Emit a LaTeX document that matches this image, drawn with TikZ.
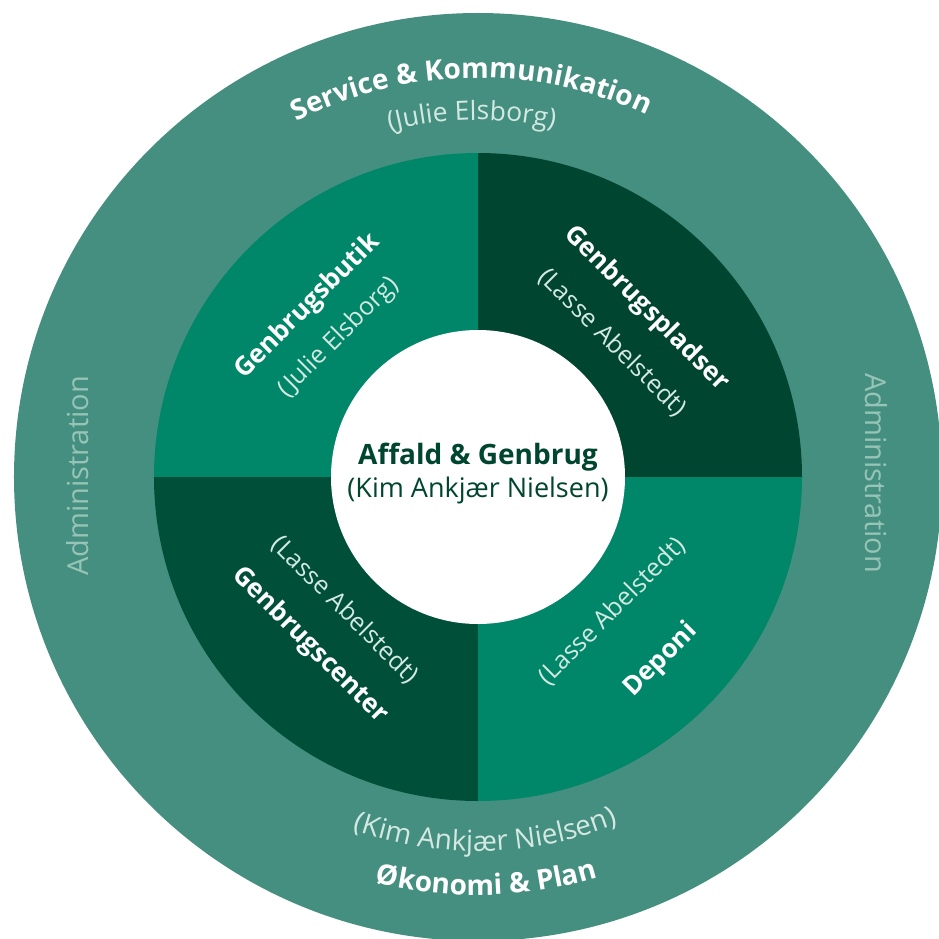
\documentclass[tikz,border=0pt]{standalone}
\usepackage{fontspec}
\setmainfont{Open Sans}
\usetikzlibrary{decorations.text}

\definecolor{ringgreen}{RGB}{69,143,128}
\definecolor{midgreen}{RGB}{0,134,104}
\definecolor{darkgreen}{RGB}{0,69,47}
\definecolor{deepgreen}{RGB}{0,80,57}
\definecolor{namegreen}{RGB}{212,233,226}
\definecolor{admingreen}{RGB}{150,196,183}

\newcommand\ringbold{\fontsize{28pt}{32pt}\selectfont\bfseries}
\newcommand\ringlight{\fontsize{26.5pt}{30pt}\selectfont}
\newcommand\ringwide{\fontsize{28pt}{30pt}\selectfont}

\begin{document}
\begin{tikzpicture}[
  every node/.style={inner sep=0pt, font=\fontsize{25pt}{30pt}\selectfont},
  unittitle/.style={text=white, font=\fontsize{26pt}{30pt}\selectfont\bfseries},
  unitname/.style={text=namegreen},
  admin/.style={text=admingreen, font=\fontsize{29pt}{30pt}\selectfont},
  ringtext/.style={decorate, decoration={text along path, text align=center, text color=#1}}
]
\useasboundingbox (-478pt,-461pt) rectangle (461pt,477pt);

% rings and quarters
\fill[ringgreen] (0,0) circle[radius=464pt];
\foreach \ang/\col in {0/darkgreen, 90/midgreen, 180/deepgreen, 270/midgreen}
  \fill[\col] (0,0) -- (\ang:324pt) arc[start angle=\ang, delta angle=90, radius=324pt] -- cycle;
\fill[white] (0,0) circle[radius=147pt];

% centre
\node[align=center, text=darkgreen, font=\fontsize{27pt}{33pt}\selectfont] (hub) at (0pt,3pt)
  {{\fontsize{28pt}{33pt}\selectfont\bfseries Affald \& Genbrug}\\(Kim Ankjær Nielsen)};

% quarters
\node[unittitle, rotate=45] (butik) at (135:241pt) {Genbrugsbutik};
\node[unitname, rotate=45] (butikname) at (135:197pt) {(Julie Elsborg)};
\node[unittitle, rotate=-45] (pladser) at (45:238pt) {Genbrugspladser};
\node[unitname, rotate=-45] (pladsername) at (45:190pt) {(Lasse Abelstedt)};
\node[unittitle, rotate=-45] (gcenter) at (225:238pt) {Genbrugscenter};
\node[unitname, rotate=-45] (gcentername) at (225:188pt) {(Lasse Abelstedt)};
\node[unittitle, rotate=45] (deponi) at (-45:259pt) {Deponi};
\node[unitname, rotate=45] (deponiname) at (-45:190pt) {(Lasse Abelstedt)};

% outer ring
\node[admin, rotate=90] (adminleft) at (-400pt,1pt) {Administration};
\node[admin, rotate=-90] (adminright) at (398pt,4pt) {Administration};
\path[ringtext=white, decoration={text={|\ringbold|Service {\&} Kommunikation}}]
  (181:399pt) arc[start angle=181, end angle=1, radius=399pt];
\path[ringtext=namegreen, decoration={text={|\ringlight|(Julie Elsborg)}}]
  (181:357pt) arc[start angle=181, end angle=1, radius=357pt];
\path[ringtext=namegreen, decoration={text={|\ringwide|(Kim Ankj{æ}r Nielsen)}}]
  (181.2:374pt) arc[start angle=181.2, end angle=361.2, radius=374pt];
\path[ringtext=white, decoration={text={|\ringbold|{Ø}konomi {\&} Plan}}]
  (181.2:418pt) arc[start angle=181.2, end angle=361.2, radius=418pt];
\end{tikzpicture}
\end{document}
